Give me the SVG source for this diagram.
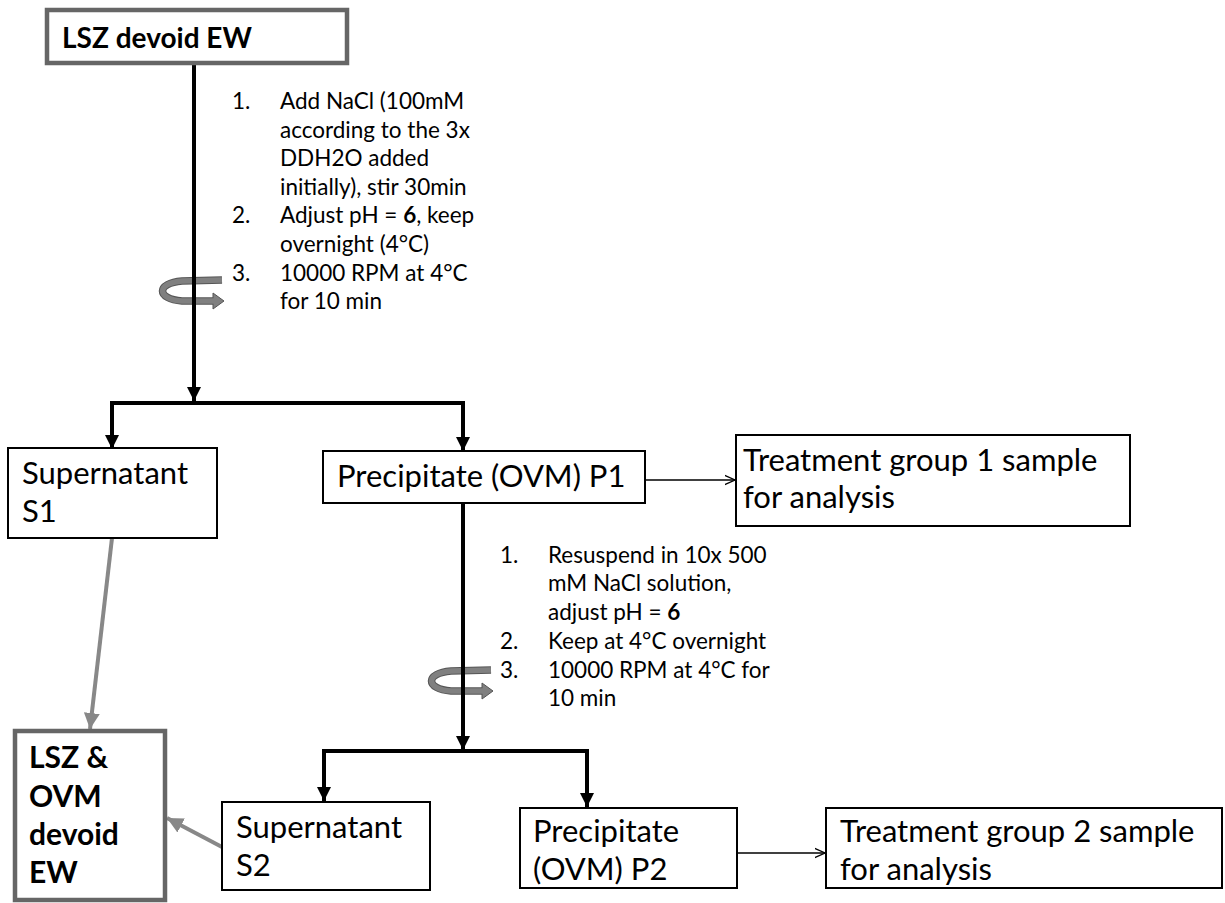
<svg xmlns="http://www.w3.org/2000/svg" width="1225" height="903" viewBox="0 0 1225 903">
  <style>
    text { font-family: Lato, "Open Sans", sans-serif; fill: #000; }
    .lbl { font-size: 31px; }
    .bold { font-size: 30px; font-weight: bold; }
    .title { font-size: 28px; font-weight: bold; }
    .step { font-size: 22.5px; }
    .box { fill: #fff; stroke: #000; stroke-width: 2; }
    .gbox { fill: #fff; stroke: #666; stroke-width: 4.5; }
    .flow { fill: none; stroke: #000; stroke-width: 4; }
    .thin { fill: none; stroke: #000; stroke-width: 1.5; }
    .back { fill: none; stroke: #888; stroke-width: 4; }
    .spin-edge { fill: none; stroke: #555; stroke-width: 7.5; }
    .spin { fill: none; stroke: #808080; stroke-width: 5.5; }
  </style>
  <defs>
    <marker id="head" viewBox="0 0 10 10" refX="10" refY="5" markerWidth="3.5" markerHeight="3.5" orient="auto" markerUnits="strokeWidth">
      <path d="M0,0 L10,5 L0,10 Z" fill="#000"/>
    </marker>
    <marker id="open" viewBox="0 0 10 10" refX="10" refY="5" markerWidth="7" markerHeight="8" orient="auto" markerUnits="strokeWidth">
      <path d="M0,0.5 L10,5 L0,9.5" fill="none" stroke="#000" stroke-width="1.2"/>
    </marker>
    <marker id="ghead" viewBox="0 0 10 10" refX="10" refY="5" markerWidth="4" markerHeight="4" orient="auto" markerUnits="strokeWidth">
      <path d="M0,0 L10,5 L0,10 Z" fill="#888"/>
    </marker>
    <!-- centrifuge rotation symbol, centred on a vertical line at x=0 -->
    <g id="spin">
      <path class="spin-edge" d="M28,0 L-12,1 C-38,3 -38,19 -12,21 L20,21"/>
      <path d="M19,13 L30,21 L19,29 Z" fill="#808080" stroke="#555" stroke-width="1"/>
      <path class="spin" d="M28,0 L-12,1 C-38,3 -38,19 -12,21 L21,21"/>
    </g>
  </defs>

  <!-- connectors -->
  <g id="connectors">
    <line class="flow" x1="194" y1="63" x2="194" y2="401" marker-end="url(#head)"/>
    <path class="flow" d="M112,449 L112,403 L463,403 L463,451" marker-end="url(#head)"/>
    <line class="flow" x1="112" y1="403" x2="112" y2="449" marker-end="url(#head)"/>
    <line class="flow" x1="463" y1="503" x2="463" y2="750" marker-end="url(#head)"/>
    <path class="flow" d="M324,801 L324,751 L587,751 L587,807" marker-end="url(#head)"/>
    <line class="flow" x1="324" y1="751" x2="324" y2="801" marker-end="url(#head)"/>
    <line class="thin" x1="645" y1="480" x2="735" y2="480" marker-end="url(#open)"/>
    <line class="thin" x1="737" y1="853" x2="825" y2="853" marker-end="url(#open)"/>
    <line class="back" x1="112" y1="538" x2="90" y2="729" marker-end="url(#ghead)"/>
    <line class="back" x1="222" y1="847" x2="167" y2="818" marker-end="url(#ghead)"/>
    <use href="#spin" x="194" y="280"/>
    <use href="#spin" x="463" y="670"/>
    <line x1="194" y1="270" x2="194" y2="310" stroke="#000" stroke-width="4"/>
    <line x1="463" y1="660" x2="463" y2="700" stroke="#000" stroke-width="4"/>
  </g>

  <!-- step notes -->
  <g id="steps1">
    <text class="step" x="232" y="109">1.</text>
    <text class="step" x="280" y="109">Add NaCl (100mM</text>
    <text class="step" x="280" y="138">according to the 3x</text>
    <text class="step" x="280" y="166">DDH2O added</text>
    <text class="step" x="280" y="195">initially), stir 30min</text>
    <text class="step" x="232" y="223">2.</text>
    <text class="step" x="280" y="223">Adjust pH = <tspan font-weight="bold">6</tspan>, keep</text>
    <text class="step" x="280" y="252">overnight (4°C)</text>
    <text class="step" x="232" y="281">3.</text>
    <text class="step" x="280" y="281">10000 RPM at 4°C</text>
    <text class="step" x="280" y="309">for 10 min</text>
  </g>
  <g id="steps2">
    <text class="step" x="500" y="563">1.</text>
    <text class="step" x="548" y="563">Resuspend in 10x 500</text>
    <text class="step" x="548" y="591">mM NaCl solution,</text>
    <text class="step" x="548" y="620">adjust pH = <tspan font-weight="bold">6</tspan></text>
    <text class="step" x="500" y="649">2.</text>
    <text class="step" x="548" y="649">Keep at 4°C overnight</text>
    <text class="step" x="500" y="678">3.</text>
    <text class="step" x="548" y="678">10000 RPM at 4°C for</text>
    <text class="step" x="548" y="706">10 min</text>
  </g>

  <!-- nodes -->
  <g id="lsz-devoid-ew">
    <rect class="gbox" x="47" y="10" width="300" height="53"/>
    <text class="title" x="62" y="48">LSZ devoid EW</text>
  </g>
  <g id="supernatant-s1">
    <rect class="box" x="8" y="448" width="209" height="90"/>
    <text class="lbl" x="22" y="484">Supernatant</text>
    <text class="lbl" x="22" y="522">S1</text>
  </g>
  <g id="precipitate-p1">
    <rect class="box" x="323" y="451" width="322" height="52"/>
    <text class="lbl" x="337" y="487">Precipitate (OVM) P1</text>
  </g>
  <g id="treatment-1">
    <rect class="box" x="736" y="435" width="394" height="91"/>
    <text class="lbl" x="743" y="471">Treatment group 1 sample</text>
    <text class="lbl" x="743" y="508">for analysis</text>
  </g>
  <g id="lsz-ovm-devoid-ew">
    <rect class="gbox" x="15" y="731" width="150" height="169"/>
    <text class="bold" x="29" y="768">LSZ &amp;</text>
    <text class="bold" x="29" y="807">OVM</text>
    <text class="bold" x="29" y="845">devoid</text>
    <text class="bold" x="29" y="883">EW</text>
  </g>
  <g id="supernatant-s2">
    <rect class="box" x="222" y="802" width="208" height="88"/>
    <text class="lbl" x="236" y="838">Supernatant</text>
    <text class="lbl" x="236" y="876">S2</text>
  </g>
  <g id="precipitate-p2">
    <rect class="box" x="520" y="808" width="217" height="80"/>
    <text class="lbl" x="533" y="842">Precipitate</text>
    <text class="lbl" x="533" y="880">(OVM) P2</text>
  </g>
  <g id="treatment-2">
    <rect class="box" x="826" y="808" width="396" height="80"/>
    <text class="lbl" x="840" y="842">Treatment group 2 sample</text>
    <text class="lbl" x="840" y="880">for analysis</text>
  </g>
</svg>
